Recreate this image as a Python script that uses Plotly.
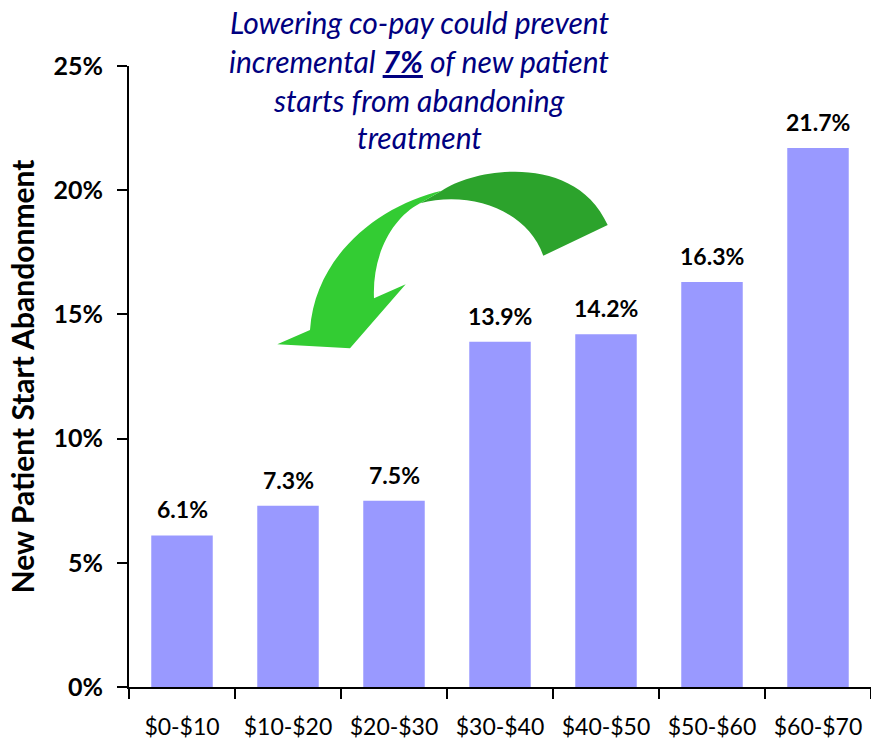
import plotly.graph_objects as go

# Co-pay bands and the share of new patient starts that were abandoned (%)
copay_bands = ["$0-$10", "$10-$20", "$20-$30", "$30-$40", "$40-$50", "$50-$60", "$60-$70"]
abandonment_pct = [6.1, 7.3, 7.5, 13.9, 14.2, 16.3, 21.7]
y_tick_values = [0, 5, 10, 15, 20, 25]
y_tick_labels = ["0%", "5%", "10%", "15%", "20%", "25%"]

callout_lines = [
    "Lowering co-pay could prevent",
    "incremental <b><u>7%</u></b> of new patient",
    "starts from abandoning",
    "treatment",
]

W, H = 871, 740
ML, MR, MT, MB = 129, 0, 66, 53
FONT = "Lato, 'Open Sans', sans-serif"
BAR_COLOR = "#9999FF"
NAVY = "#000080"

fig = go.Figure(
    go.Bar(
        x=copay_bands,
        y=abandonment_pct,
        marker=dict(color=BAR_COLOR, line=dict(width=0)),
        hoverinfo="x+y",
    )
)

# value labels above each bar
for band, val in zip(copay_bands, abandonment_pct):
    fig.add_annotation(
        x=band, y=val, xref="x", yref="y",
        text=f"<b>{val:.1f}%</b>", showarrow=False,
        yanchor="bottom", yshift=10,
        font=dict(family=FONT, size=23, color="black"),
    )

# callout text, one line per annotation for tight line spacing
line_centers = [22, 61, 99.5, 137]
for txt, yc in zip(callout_lines, line_centers):
    fig.add_annotation(
        x=(419 - ML) / (W - ML - MR), y=(H - MB - yc) / (H - MT - MB),
        xref="paper", yref="paper", text=f"<i>{txt}</i>", showarrow=False,
        xanchor="center", yanchor="middle",
        font=dict(family=FONT, size=30, color=NAVY),
    )


# curved block arrow, drawn in pixel space and mapped onto paper coordinates
def px(x, y):
    return f"{(x - ML) / (W - ML - MR):.5f},{(H - MB - y) / (H - MT - MB):.5f}"


back_band = (
    f"M {px(420, 203.3)} L {px(441.7, 190.7)} "
    f"C {px(475, 168)} {px(575, 152)} {px(607.7, 225)} "
    f"L {px(543.3, 255.7)} "
    f"C {px(527, 210)} {px(470, 190)} {px(420, 203.3)} Z"
)
front_band = (
    f"M {px(441.7, 190.7)} "
    f"C {px(380, 205)} {px(315, 255)} {px(310, 330)} "
    f"L {px(277.3, 344.3)} L {px(350, 348.3)} L {px(405.7, 284.3)} L {px(374, 298.3)} "
    f"C {px(372, 255)} {px(392, 218)} {px(420, 203.3)} Z"
)
fig.add_shape(type="path", path=back_band, xref="paper", yref="paper",
              fillcolor="#2CA32C", line=dict(width=0), layer="above")
fig.add_shape(type="path", path=front_band, xref="paper", yref="paper",
              fillcolor="#33CC33", line=dict(width=0), layer="above")

fig.update_layout(
    width=W, height=H,
    margin=dict(l=ML, r=MR, t=MT, b=MB, pad=0),
    paper_bgcolor="white", plot_bgcolor="white",
    showlegend=False,
    bargap=0.42,
    font=dict(family=FONT, color="black"),
    xaxis=dict(
        type="category",
        showline=True, linecolor="black", linewidth=2,
        ticks="outside", ticklen=10, tickwidth=2, tickcolor="black",
        tickson="boundaries",
        tickfont=dict(family=FONT, size=23, color="black"),
        ticklabelstandoff=18,
        showgrid=False, zeroline=False,
    ),
    yaxis=dict(
        range=[0, 25],
        tickvals=y_tick_values, ticktext=y_tick_labels,
        showline=True, linecolor="black", linewidth=2,
        ticks="outside", ticklen=10, tickwidth=2, tickcolor="black",
        tickfont=dict(family=FONT, size=25, color="black", weight="bold"),
        ticklabelstandoff=9,
        showgrid=False, zeroline=False,
        title=dict(text="<b>New Patient Start Abandonment</b>",
                   font=dict(family=FONT, size=30, color="black"), standoff=10),
    ),
)

fig.write_html("out.html")
